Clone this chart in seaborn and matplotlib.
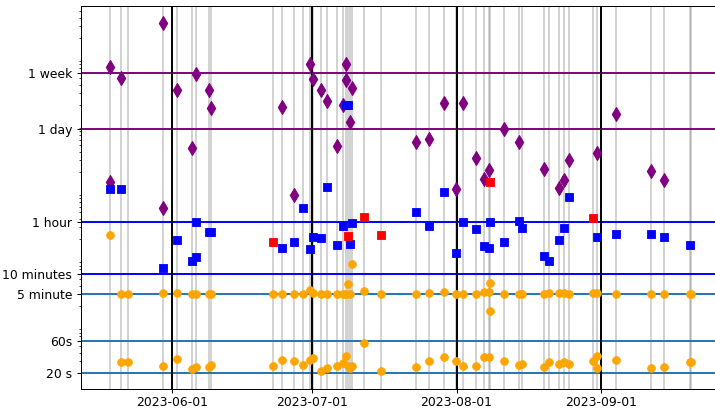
import matplotlib
matplotlib.use("Agg")
import matplotlib.pyplot as plt
import matplotlib.dates as mdates
import matplotlib.ticker as mticker
import seaborn as sns
import pandas as pd

# ---------------- data ----------------
event_dates = [
    "2023-05-18 15:00", "2023-05-21 01:30", "2023-05-22 13:00", "2023-05-29 22:00",
    "2023-06-02 01:00", "2023-06-05 05:30", "2023-06-06 03:30", "2023-06-08 22:30",
    "2023-06-09 09:00", "2023-06-22 13:00", "2023-06-24 13:00", "2023-06-27 04:30",
    "2023-06-28 23:30", "2023-06-30 13:00", "2023-07-01 02:30", "2023-07-02 20:00",
    "2023-07-04 03:00", "2023-07-06 09:00", "2023-07-07 15:00", "2023-07-08 06:30",
    "2023-07-08 15:00", "2023-07-09 01:00", "2023-07-09 13:30", "2023-07-12 01:00",
    "2023-07-15 19:00", "2023-07-23 08:00", "2023-07-25 23:30", "2023-07-29 09:00",
    "2023-07-31 21:00", "2023-08-02 11:00", "2023-08-05 02:30", "2023-08-06 21:30",
    "2023-08-07 23:00", "2023-08-08 05:00", "2023-08-11 03:00", "2023-08-14 07:00",
    "2023-08-14 22:30", "2023-08-19 16:00", "2023-08-20 20:00", "2023-08-23 00:00",
    "2023-08-24 01:30", "2023-08-25 03:00", "2023-08-30 05:00", "2023-08-31 01:30",
    "2023-09-04 05:00", "2023-09-11 19:00", "2023-09-14 11:00", "2023-09-20 00:00",
    "2023-09-20 06:30",
]

purple_dates = [
    "2023-05-18 15:00", "2023-05-18 15:00", "2023-05-21 01:30", "2023-05-29 22:00",
    "2023-05-29 22:00", "2023-06-02 01:00", "2023-06-05 05:30", "2023-06-06 03:30",
    "2023-06-08 22:30", "2023-06-09 09:00", "2023-06-24 13:00", "2023-06-27 04:30",
    "2023-06-30 13:00", "2023-07-01 02:30", "2023-07-02 20:00", "2023-07-04 03:00",
    "2023-07-06 09:00", "2023-07-07 15:00", "2023-07-08 06:30", "2023-07-08 06:30",
    "2023-07-09 01:00", "2023-07-09 13:30", "2023-07-23 08:00", "2023-07-25 23:30",
    "2023-07-29 09:00", "2023-07-31 21:00", "2023-08-02 11:00", "2023-08-05 02:30",
    "2023-08-06 21:30", "2023-08-07 23:00", "2023-08-11 03:00", "2023-08-14 07:00",
    "2023-08-19 16:00", "2023-08-23 00:00", "2023-08-24 01:30", "2023-08-25 03:00",
    "2023-08-31 01:30", "2023-09-04 05:00", "2023-09-11 19:00", "2023-09-14 11:00",
]
purple_vals = [
    733000, 14300, 508000, 3290000,
    5690, 330000, 45900, 577000,
    333000, 181000, 188000, 9140,
    813000, 491000, 333000, 231000,
    48600, 199000, 813000, 467000,
    112000, 360000, 55200, 61200,
    211000, 11000, 211000, 32500,
    15500, 21300, 88100, 55200,
    22300, 11400, 15100, 29800,
    38600, 146000, 20600, 15000,
]

blue_dates = [
    "2023-05-18 15:00", "2023-05-21 01:30", "2023-05-29 22:00", "2023-06-02 01:00",
    "2023-06-05 05:30", "2023-06-06 03:30", "2023-06-06 03:30", "2023-06-08 22:30",
    "2023-06-09 09:00", "2023-06-24 13:00", "2023-06-27 04:30", "2023-06-28 23:30",
    "2023-06-30 13:00", "2023-07-01 02:30", "2023-07-02 20:00", "2023-07-04 03:00",
    "2023-07-06 09:00", "2023-07-07 15:00", "2023-07-08 06:30", "2023-07-08 15:00",
    "2023-07-09 01:00", "2023-07-09 13:30", "2023-07-23 08:00", "2023-07-25 23:30",
    "2023-07-29 09:00", "2023-07-31 21:00", "2023-08-02 11:00", "2023-08-05 02:30",
    "2023-08-06 21:30", "2023-08-07 23:00", "2023-08-08 05:00", "2023-08-11 03:00",
    "2023-08-14 07:00", "2023-08-14 22:30", "2023-08-19 16:00", "2023-08-20 20:00",
    "2023-08-23 00:00", "2023-08-24 01:30", "2023-08-25 03:00", "2023-08-31 01:30",
    "2023-09-04 05:00", "2023-09-11 19:00", "2023-09-14 11:00", "2023-09-20 00:00",
]
blue_vals = [
    11200, 11000, 744, 1946,
    947, 3612, 1086, 2563,
    2563, 1480, 1817, 5726,
    1401, 2158, 2063, 12000,
    1606, 3150, 199000, 199000,
    1696, 3490, 5040, 3150,
    9840, 1233, 3540, 2811,
    1584, 1449, 3540, 1799,
    3700, 2940, 1124, 936,
    1946, 2879, 8530, 2158,
    2366, 2350, 2158, 1623,
]

red_dates = [
    "2023-06-22 13:00", "2023-07-08 15:00", "2023-07-12 01:00",
    "2023-07-15 19:00", "2023-08-08 05:00", "2023-08-30 05:00",
]
red_vals = [1817, 2234, 4288, 2312, 14300, 4060]

orange_dates = [
    "2023-05-18 15:00",
    "2023-05-21 01:30", "2023-05-21 01:30",
    "2023-05-22 13:00", "2023-05-22 13:00",
    "2023-05-29 22:00", "2023-05-29 22:00",
    "2023-06-02 01:00", "2023-06-02 01:00",
    "2023-06-05 05:30", "2023-06-05 05:30",
    "2023-06-06 03:30", "2023-06-06 03:30",
    "2023-06-08 22:30", "2023-06-08 22:30",
    "2023-06-09 09:00", "2023-06-09 09:00",
    "2023-06-22 13:00", "2023-06-22 13:00",
    "2023-06-24 13:00", "2023-06-24 13:00",
    "2023-06-27 04:30", "2023-06-27 04:30",
    "2023-06-28 23:30", "2023-06-28 23:30",
    "2023-06-30 13:00", "2023-06-30 13:00",
    "2023-07-01 02:30", "2023-07-01 02:30",
    "2023-07-02 20:00", "2023-07-02 20:00",
    "2023-07-04 03:00", "2023-07-04 03:00",
    "2023-07-06 09:00", "2023-07-06 09:00",
    "2023-07-07 15:00", "2023-07-07 15:00",
    "2023-07-08 06:30", "2023-07-08 06:30",
    "2023-07-08 15:00", "2023-07-08 15:00",
    "2023-07-09 01:00", "2023-07-09 01:00",
    "2023-07-09 13:30", "2023-07-09 13:30",
    "2023-07-12 01:00", "2023-07-12 01:00",
    "2023-07-15 19:00", "2023-07-15 19:00",
    "2023-07-23 08:00", "2023-07-23 08:00",
    "2023-07-25 23:30", "2023-07-25 23:30",
    "2023-07-29 09:00", "2023-07-29 09:00",
    "2023-07-31 21:00", "2023-07-31 21:00",
    "2023-08-02 11:00", "2023-08-02 11:00",
    "2023-08-05 02:30", "2023-08-05 02:30",
    "2023-08-06 21:30", "2023-08-06 21:30",
    "2023-08-07 23:00", "2023-08-07 23:00",
    "2023-08-08 05:00", "2023-08-08 05:00",
    "2023-08-11 03:00", "2023-08-11 03:00",
    "2023-08-14 07:00", "2023-08-14 07:00",
    "2023-08-14 22:30", "2023-08-14 22:30",
    "2023-08-19 16:00", "2023-08-19 16:00",
    "2023-08-20 20:00", "2023-08-20 20:00",
    "2023-08-23 00:00", "2023-08-23 00:00",
    "2023-08-24 01:30", "2023-08-24 01:30",
    "2023-08-25 03:00", "2023-08-25 03:00",
    "2023-08-30 05:00", "2023-08-30 05:00",
    "2023-08-31 01:30", "2023-08-31 01:30", "2023-08-31 01:30",
    "2023-09-04 05:00", "2023-09-04 05:00",
    "2023-09-11 19:00", "2023-09-11 19:00",
    "2023-09-14 11:00", "2023-09-14 11:00",
    "2023-09-20 00:00", "2023-09-20 00:00",
    "2023-09-20 06:30", "2023-09-20 06:30",
]
orange_vals = [
    2312,
    302, 29.2,
    302, 28.6,
    316, 25.4,
    316, 32.0,
    299, 22.7,
    299, 24.3,
    302, 24.3,
    302, 26.3,
    299, 25.4,
    299, 31.6,
    299, 30.5,
    299, 26.3,
    343, 31.6,
    316, 33.1,
    299, 21.6,
    299, 23.5,
    299, 25.4,
    299, 27.9,
    299, 36.2,
    421, 25.4,
    299, 23.5,
    853, 25.4,
    336, 55.5,
    299, 21.6,
    299, 24.8,
    309, 30.5,
    320, 35.0,
    305, 30.2,
    299, 25.4,
    299, 25.4,
    320, 35.0,
    320, 35.0,
    444, 168,
    305, 30.5,
    305, 26.0,
    305, 26.9,
    299, 24.8,
    316, 29.5,
    309, 26.9,
    309, 29.5,
    299, 27.2,
    309, 30.2,
    316, 36.2, 23.5,
    305, 31.3,
    299, 23.5,
    305, 24.3,
    305, 29.5,
    305, 29.5,
]

month_starts = ["2023-06-01", "2023-07-01", "2023-08-01", "2023-09-01"]

purple_lines = [604800, 86400]
blue_lines = [3600, 600]
light_lines = [300, 60, 20]

ytick_vals = [20, 60, 300, 600, 3600, 86400, 604800]
ytick_labels = ["20 s", "60s", "5 minute", "10 minutes", "1 hour", "1 day", "1 week"]

x_start, x_end = "2023-05-12 10:00", "2023-09-25 16:00"
y_min, y_max = 11.5, 5.96e6

# ---------------- plot ----------------
def to_dt(lst):
    return pd.to_datetime(pd.Series(lst))

SCALE = 0.89  # reference appears rendered slightly smaller than matplotlib defaults

fig = plt.figure(figsize=(7.15, 4.08), dpi=100)
ax = fig.add_axes([81 / 715, 19 / 408, 635 / 715, 383 / 408])
ax.set_yscale("log")

for d in to_dt(event_dates):
    ax.axvline(d, color="grey", alpha=0.35, lw=1.4, zorder=1)

for v in purple_lines:
    ax.axhline(v, color="purple", lw=1.4, zorder=2)
for v in blue_lines:
    ax.axhline(v, color="blue", lw=1.4, zorder=2)
for v in light_lines:
    ax.axhline(v, color="tab:blue", lw=1.4, zorder=2)

for d in to_dt(month_starts):
    ax.axvline(d, color="black", lw=1.4, zorder=3)

df_o = pd.DataFrame({"date": to_dt(orange_dates), "val": orange_vals})
df_p = pd.DataFrame({"date": to_dt(purple_dates), "val": purple_vals})
df_b = pd.DataFrame({"date": to_dt(blue_dates), "val": blue_vals})
df_r = pd.DataFrame({"date": to_dt(red_dates), "val": red_vals})

sns.scatterplot(data=df_o, x="date", y="val", ax=ax, color="orange", marker="o",
                s=32, edgecolor="orange", linewidth=0.5, zorder=4)
sns.scatterplot(data=df_p, x="date", y="val", ax=ax, color="purple", marker="d",
                s=50, edgecolor="purple", linewidth=0.8, zorder=5)
sns.scatterplot(data=df_b, x="date", y="val", ax=ax, color="blue", marker="s",
                s=26, edgecolor="blue", linewidth=0.6, zorder=5)
sns.scatterplot(data=df_r, x="date", y="val", ax=ax, color="red", marker="s",
                s=26, edgecolor="red", linewidth=0.6, zorder=5)

ax.set_xlim(pd.Timestamp(x_start), pd.Timestamp(x_end))
ax.set_ylim(y_min, y_max)

ax.set_yticks(ytick_vals)
ax.set_yticklabels(ytick_labels)
ax.yaxis.set_minor_locator(mticker.LogLocator(base=10, subs=range(2, 10), numticks=20))
ax.yaxis.set_minor_formatter(mticker.NullFormatter())

ax.xaxis.set_major_locator(mdates.MonthLocator())
ax.xaxis.set_major_formatter(mdates.DateFormatter("%Y-%m-%d"))
ax.xaxis.set_minor_locator(mticker.NullLocator())

ax.set_xlabel("")
ax.set_ylabel("")
ax.tick_params(which="major", labelsize=10 * SCALE, length=3.5 * SCALE,
               pad=3.5 * SCALE, width=0.8 * SCALE)
ax.tick_params(axis="x", which="major", pad=1.8)
ax.tick_params(which="minor", length=2 * SCALE, width=0.6 * SCALE)
for sp in ax.spines.values():
    sp.set_linewidth(0.8 * SCALE)

fig.savefig("out.png", dpi=100)
